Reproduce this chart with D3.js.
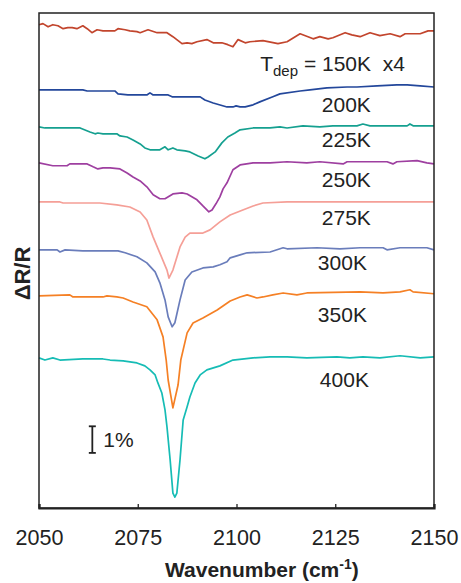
<!DOCTYPE html>
<html>
<head>
<meta charset="utf-8">
<script src="https://cdn.jsdelivr.net/npm/d3@7"></script>
<style>
  body { margin: 0; background: #fff; }
  text { font-family: "Liberation Sans", Arial, sans-serif; fill: #222; white-space: pre; }
</style>
</head>
<body>
<div id="chart"></div>
<script>
// temperatures of deposition, top to bottom
const labels = ["150K", "200K", "225K", "250K", "275K", "300K", "350K", "400K"];
// vertical offset of each trace (in % of dR/R)
const offsets = [18.16, 15.71, 14.32, 12.97, 11.5, 9.7, 7.97, 5.64];
const colors = ["#c2452d", "#23479b", "#15a090", "#9e3fa0", "#f59f97", "#6a7dbb", "#f58025", "#16bcb5"];
const xTicks = [2050, 2075, 2100, 2125, 2150];

// [wavenumber, dR/R %] per trace (150K shown x4)
const s150 = [[2050,0],[2051,0.04],[2052.3,-0.08],[2053.5,0],[2054.8,-0.04],[2056.1,-0.15],[2057.3,-0.11],[2058.4,-0.11],[2059.6,-0.15],[2061.1,-0.04],[2062.2,-0.15],[2063.4,-0.3],[2064.7,-0.19],[2066.2,-0.23],[2069.2,-0.23],[2070,-0.15],[2071.8,-0.19],[2073,-0.23],[2074.8,-0.26],[2075.6,-0.3],[2077.6,-0.19],[2079.9,-0.3],[2082.4,-0.3],[2083.9,-0.45],[2086.2,-0.71],[2087.5,-0.68],[2088.7,-0.71],[2090,-0.64],[2092.5,-0.56],[2094.1,-0.68],[2096.3,-0.68],[2097.8,-0.75],[2099.1,-0.83],[2100.4,-0.56],[2102.2,-0.68],[2103.4,-0.64],[2106.7,-0.6],[2110.5,-0.71],[2112.8,-0.64],[2116.1,-0.34],[2118.1,-0.45],[2119.4,-0.53],[2121.1,-0.45],[2123.2,-0.53],[2124.4,-0.49],[2127.5,-0.3],[2129.2,-0.38],[2131.3,-0.45],[2133.8,-0.3],[2136.3,-0.41],[2138.9,-0.34],[2141.4,-0.45],[2142.7,-0.34],[2146.5,-0.34],[2148.5,-0.23],[2150,-0.23]];
const s200 = [[2050,0],[2061.1,0],[2062.2,-0.04],[2069.2,-0.04],[2070,-0.15],[2072.5,-0.19],[2077.3,-0.19],[2078.1,-0.11],[2078.9,-0.19],[2082.7,-0.19],[2083.7,-0.26],[2090.8,-0.26],[2092,-0.38],[2094.1,-0.49],[2097.6,-0.64],[2099.1,-0.64],[2099.9,-0.6],[2100.9,-0.64],[2102.2,-0.64],[2104.2,-0.56],[2105.9,-0.45],[2109.2,-0.26],[2111,-0.15],[2116.1,-0.04],[2118.6,0],[2122.9,0.08],[2128,0.11],[2130.5,0.11],[2135.6,0.15],[2140.6,0.19],[2143.2,0.19],[2146.5,0.15],[2150,0.11]];
const s225 = [[2050,0],[2051.5,-0.04],[2060.4,-0.04],[2062.9,-0.19],[2064.2,-0.26],[2064.9,-0.23],[2066.2,-0.26],[2069.7,-0.26],[2070.5,-0.34],[2072.3,-0.38],[2073.8,-0.49],[2075.6,-0.64],[2076.8,-0.79],[2078.1,-0.86],[2080.6,-0.86],[2081.9,-0.75],[2082.7,-0.86],[2083.9,-0.79],[2084.9,-0.86],[2087,-0.9],[2088.2,-0.94],[2090.3,-1.09],[2092,-1.2],[2092.8,-1.13],[2094.6,-0.94],[2096.3,-0.6],[2097.8,-0.38],[2099.6,-0.23],[2100.9,-0.11],[2104.2,-0.04],[2108.5,-0.04],[2111,0],[2112.8,-0.04],[2116.8,0.04],[2121.1,0],[2124.4,0.04],[2130.5,0.04],[2132,0.11],[2133.8,0.04],[2143.2,0.04],[2143.9,0.11],[2144.7,0.04],[2150,0.04]];
const s250 = [[2050,0],[2053.5,-0.11],[2057.1,-0.11],[2057.8,-0.04],[2062.2,-0.04],[2063.7,-0.15],[2064.9,-0.23],[2066.2,-0.19],[2068,-0.19],[2070.5,-0.23],[2072.3,-0.38],[2073.8,-0.53],[2075.6,-0.68],[2077.3,-0.9],[2078.9,-1.2],[2080.6,-1.35],[2081.9,-1.35],[2083.9,-1.17],[2086.2,-1.13],[2087.5,-1.17],[2090,-1.39],[2091.5,-1.62],[2093,-1.84],[2093.8,-1.77],[2094.8,-1.54],[2095.8,-1.28],[2096.6,-0.98],[2097.6,-0.75],[2099.1,-0.26],[2100.9,-0.08],[2104.2,0],[2108.5,0],[2112.8,0.04],[2117.8,0],[2121.1,0.04],[2127,-0.04],[2128,0.04],[2138.1,0.04],[2139.6,-0.04],[2140.6,0.04],[2145.7,0.08],[2148.2,0],[2150,-0.04]];
const s275 = [[2050,0],[2055.3,0],[2056.1,-0.04],[2065.4,-0.04],[2069.7,-0.11],[2073,-0.19],[2075.6,-0.38],[2077.3,-0.68],[2078.9,-1.32],[2080.6,-1.92],[2082.4,-2.56],[2082.9,-2.86],[2083.9,-2.56],[2085.7,-1.69],[2087,-1.32],[2088.2,-1.17],[2091.5,-1.17],[2093.3,-1.05],[2095.8,-0.75],[2098.4,-0.49],[2101.6,-0.3],[2104.2,-0.15],[2106.7,-0.04],[2112.8,0],[2150,0]];
const s300 = [[2050,0],[2054.6,0],[2055.3,-0.08],[2056.6,0],[2061.1,-0.04],[2070,-0.04],[2071.8,-0.11],[2074.8,-0.26],[2077.3,-0.49],[2079.4,-0.83],[2080.6,-1.24],[2081.9,-1.88],[2082.7,-2.52],[2083.7,-2.89],[2084.4,-2.74],[2085.7,-1.88],[2087,-1.13],[2088.7,-0.83],[2091.5,-0.68],[2094.1,-0.64],[2095.8,-0.56],[2097.6,-0.45],[2098.4,-0.3],[2100.9,-0.19],[2102.7,-0.11],[2108.5,-0.08],[2111.8,0.08],[2112.8,0.04],[2120.4,0.08],[2126.2,0.04],[2131.3,0.08],[2137.1,0.08],[2138.1,0],[2141.4,0.08],[2148.2,0.08],[2150,0]];
const s350 = [[2050,0],[2057.8,0.04],[2058.6,-0.04],[2062.4,-0.04],[2066.2,-0.04],[2067.2,0],[2069.7,-0.04],[2071.3,-0.08],[2073.8,-0.23],[2077.3,-0.41],[2079.9,-0.9],[2081.4,-1.54],[2082.2,-2.41],[2082.7,-3.16],[2083.9,-4.21],[2085.2,-3.35],[2085.9,-2.41],[2087.5,-1.39],[2089,-1.02],[2091.5,-0.83],[2095.1,-0.53],[2098.4,-0.19],[2100.9,-0.04],[2102.7,0.04],[2105.2,-0.08],[2106.7,-0.04],[2109.2,0.04],[2111.8,0.11],[2115.3,0.04],[2117.8,0.11],[2131.3,0.15],[2137.1,0.11],[2141.4,0.15],[2143.9,0.23],[2144.7,0.15],[2150,0.08]];
const s400 = [[2050,0],[2051.5,-0.08],[2053.5,0],[2055.3,-0.08],[2061.1,-0.04],[2066.2,-0.04],[2068,-0.08],[2071.3,-0.11],[2074.8,-0.19],[2076.8,-0.3],[2078.1,-0.45],[2079.4,-0.64],[2080.1,-0.94],[2081.1,-1.32],[2081.9,-1.95],[2082.4,-2.59],[2083.2,-3.83],[2083.9,-5.08],[2084.4,-5.23],[2084.9,-5.08],[2085.7,-3.83],[2086.5,-2.33],[2087.5,-1.84],[2088.2,-1.47],[2089.5,-0.94],[2090.8,-0.64],[2092.5,-0.45],[2095.8,-0.3],[2099.1,-0.08],[2104.2,0],[2108.5,0.04],[2112.8,0.04],[2117.8,0],[2125.4,0.04],[2128.7,0],[2132,0.04],[2136.3,0],[2141.4,0.08],[2146.5,0],[2150,0.04]];
const series = [s150, s200, s225, s250, s275, s300, s350, s400];

// where each temperature label sits, in data units [wavenumber, %]
const labelPos = [[2106, 16.43], [2121.6, 14.89], [2121.6, 13.57], [2121.6, 12.07], [2121.6, 10.64], [2120.6, 8.95], [2120.6, 6.99], [2121.1, 4.55]];
const scaleBar = {x: 2063.5, from: 2.07, to: 3.07, text: "1%"};

const W = 461, H = 583;
const margin = {top: 13, right: 27, bottom: 75, left: 39};
const width = W - margin.left - margin.right;
const height = H - margin.top - margin.bottom;

const svg = d3.select("#chart").append("svg")
    .attr("width", W).attr("height", H)
    .append("g")
    .attr("transform", "translate(" + margin.left + "," + margin.top + ")");

const xScale = d3.scaleLinear().domain([2050, 2150]).range([0, width]);
const yScale = d3.scaleLinear().domain([0, 18.6]).range([height, 0]);

const line = d3.line()
    .x(d => xScale(d[0]))
    .y(d => yScale(d[1]));

// traces
svg.selectAll(".trace")
    .data(series)
    .join("path")
    .attr("class", "trace")
    .attr("fill", "none")
    .attr("stroke", (d, i) => colors[i])
    .attr("stroke-width", 1.7)
    .attr("stroke-linejoin", "round")
    .attr("d", (d, i) => line(d.map(p => [p[0], p[1] + offsets[i]])));

// frame
svg.append("rect")
    .attr("width", width).attr("height", height)
    .attr("fill", "none").attr("stroke", "#222").attr("stroke-width", 1.5);

// x axis with inward ticks
const xAxis = svg.append("g")
    .attr("transform", "translate(0," + height + ")")
    .call(d3.axisBottom(xScale).tickValues(xTicks).tickSize(-4).tickPadding(22).tickFormat(d3.format("d")));
xAxis.select(".domain").attr("stroke", "#222").attr("stroke-width", 2.2);
xAxis.selectAll(".tick line").attr("stroke", "#222").attr("stroke-width", 1.3);
xAxis.selectAll(".tick text")
    .attr("fill", "#222")
    .style("font-size", "21.5px")
    .style("font-family", "'Liberation Sans', Arial, sans-serif");

// axis titles
const xTitle = svg.append("text")
    .attr("x", 126).attr("y", height + 69)
    .style("font-size", "21px").style("font-weight", "bold");
xTitle.append("tspan").text("Wavenumber (cm");
xTitle.append("tspan").attr("dy", -8).style("font-size", "14px").text("-1");
xTitle.append("tspan").attr("dy", 8).text(")");

svg.append("text")
    .attr("transform", "rotate(-90)")
    .attr("x", -height / 2 - 13).attr("y", -9)
    .attr("text-anchor", "middle")
    .style("font-size", "22px").style("font-weight", "bold")
    .text("\u0394R/R");

// temperature labels
labels.forEach((lab, i) => {
    const t = svg.append("text")
        .attr("x", xScale(labelPos[i][0]))
        .attr("y", yScale(labelPos[i][1]))
        .style("font-size", "21px");
    if (i === 0) {
        t.append("tspan").text("T");
        t.append("tspan").attr("dy", 5).style("font-size", "15px").text("dep");
        t.append("tspan").attr("dy", -5).text(" = " + lab + "  x4");
    } else {
        t.text(lab);
    }
});

// 1% scale bar
const bx = xScale(scaleBar.x);
const by0 = yScale(scaleBar.from), by1 = yScale(scaleBar.to);
const bar = svg.append("g").attr("stroke", "#222").attr("stroke-width", 1.8);
bar.append("line").attr("x1", bx).attr("x2", bx).attr("y1", by0).attr("y2", by1);
bar.append("line").attr("x1", bx - 3.5).attr("x2", bx + 3.5).attr("y1", by0).attr("y2", by0);
bar.append("line").attr("x1", bx - 3.5).attr("x2", bx + 3.5).attr("y1", by1).attr("y2", by1);
svg.append("text")
    .attr("x", bx + 11).attr("y", by0 - 6)
    .style("font-size", "21px")
    .text(scaleBar.text);
</script>
</body>
</html>
